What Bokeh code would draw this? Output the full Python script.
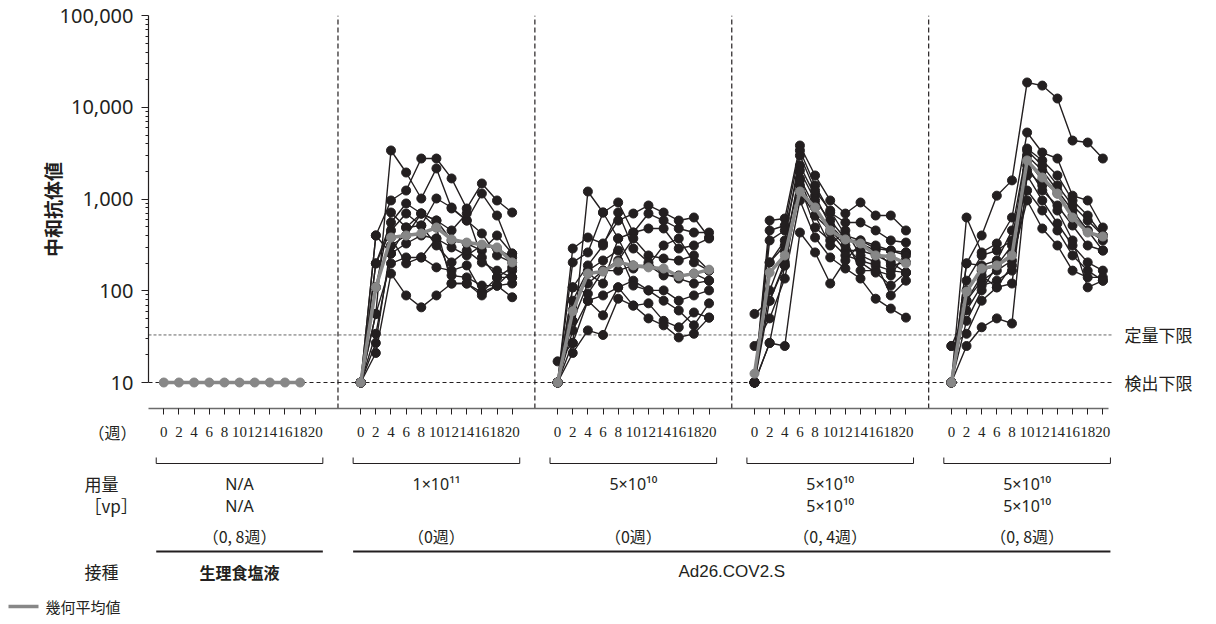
from bokeh.plotting import figure
from bokeh.models import Range1d, FixedTicker, NumeralTickFormatter
from bokeh.embed import file_html
from bokeh.resources import INLINE
from bokeh.core.properties import value

# ---------------- data ----------------
WEEKS = [0, 2, 4, 6, 8, 10, 12, 14, 16, 18, 20]
SALINE_WEEKS = [0, 2, 4, 6, 8, 10, 12, 14, 16, 18]

saline_gmt = [10, 10, 10, 10, 10, 10, 10, 10, 10, 10]

g1e11_animals = [
    [10, 56, 3390, 1950, 1015, 2160, 790, 584, 1150, 662, 255],
    [10, 401, 966, 1240, 2770, 2770, 1680, 790, 1480, 966, 714],
    [10, 21, 154, 89, 66, 89, 120, 120, 96, 114, 85],
    [10, 109, 714, 490, 696, 584, 354, 328, 275, 401, 255],
    [10, 199, 455, 696, 515, 1015, 810, 584, 422, 243, 204],
    [10, 34, 255, 328, 401, 372, 297, 243, 312, 289, 231],
    [10, 56, 199, 231, 231, 180, 166, 189, 96, 140, 140],
    [10, 109, 381, 199, 231, 372, 147, 140, 114, 114, 166],
    [10, 199, 556, 896, 696, 584, 455, 696, 231, 140, 180],
    [10, 27, 312, 401, 696, 490, 120, 120, 89, 114, 120],
    [10, 401, 255, 490, 515, 312, 204, 275, 204, 166, 140],
]
g1e11_gmt = [10, 109, 381, 401, 422, 490, 363, 336, 320, 297, 204]

g5e10_animals = [
    [10, 27, 1210, 714, 919, 432, 696, 584, 478, 432, 432],
    [10, 289, 381, 328, 584, 696, 852, 714, 584, 630, 381],
    [10, 204, 262, 714, 372, 432, 478, 478, 289, 312, 372],
    [10, 109, 93, 166, 214, 372, 243, 225, 214, 243, 166],
    [10, 61, 154, 120, 372, 175, 189, 147, 147, 154, 129],
    [10, 21, 37, 33, 82, 69, 73, 47, 40, 58, 51],
    [17, 27, 78, 54, 109, 129, 101, 78, 61, 42, 73],
    [10, 37, 78, 89, 109, 69, 50, 42, 31, 34, 51],
    [10, 109, 189, 312, 714, 289, 204, 154, 136, 120, 129],
    [10, 78, 166, 214, 275, 114, 101, 101, 78, 89, 101],
    [10, 47, 120, 166, 166, 189, 189, 312, 372, 204, 166],
]
g5e10_gmt = [10, 60, 154, 162, 204, 189, 180, 175, 144, 154, 170]

g5e10x2_w4_animals = [
    [10, 584, 614, 3840, 1810, 966, 696, 919, 662, 662, 455],
    [10, 455, 515, 3390, 1410, 714, 556, 556, 455, 354, 336],
    [10, 354, 455, 2320, 1090, 515, 354, 354, 289, 275, 262],
    [10, 204, 312, 1680, 810, 432, 275, 275, 243, 204, 158],
    [56, 78, 204, 1410, 490, 354, 243, 214, 189, 166, 158],
    [25, 50, 136, 966, 381, 231, 175, 136, 82, 64, 51],
    [10, 27, 25, 432, 262, 120, 214, 328, 275, 189, 204],
    [10, 27, 189, 1240, 662, 312, 455, 243, 204, 89, 129],
    [10, 101, 275, 2050, 966, 584, 372, 166, 166, 147, 262],
    [10, 204, 354, 2990, 1240, 751, 401, 354, 312, 275, 243],
    [10, 78, 189, 1600, 662, 455, 312, 204, 158, 114, 158],
]
g5e10x2_w4_gmt = [12.5, 158, 243, 1210, 810, 455, 363, 328, 243, 237, 199]

g5e10x2_w8_animals = [
    [10, 199, 401, 1090, 1600, 18700, 17300, 12500, 4350, 4140, 2770],
    [10, 630, 262, 328, 630, 5320, 3220, 2770, 1090, 966, 490],
    [10, 199, 189, 214, 455, 3560, 2640, 1810, 966, 662, 401],
    [10, 101, 166, 189, 255, 2990, 2050, 1240, 751, 455, 275],
    [25, 34, 78, 109, 120, 2320, 1240, 852, 515, 312, 275],
    [10, 25, 40, 50, 44, 1810, 966, 542, 312, 204, 166],
    [10, 78, 129, 166, 214, 966, 478, 312, 166, 140, 140],
    [10, 47, 101, 189, 312, 2640, 1600, 1150, 662, 455, 354],
    [25, 61, 114, 129, 166, 2050, 1410, 751, 354, 109, 129],
    [10, 129, 243, 275, 354, 3390, 2320, 1410, 852, 584, 401],
    [10, 78, 147, 109, 189, 1240, 751, 455, 243, 166, 129],
]
g5e10x2_w8_gmt = [10, 98, 175, 189, 243, 2640, 1720, 1150, 630, 432, 391]

DOSE_LINE_1 = ["N/A", "1×10¹¹", "5×10¹⁰", "5×10¹⁰", "5×10¹⁰"]
DOSE_LINE_2 = ["N/A", "", "", "5×10¹⁰", "5×10¹⁰"]
SCHEDULE = ["（0, 8週）", "（0週）", "（0週）", "（0, 4週）", "（0, 8週）"]
VACCINES = ["生理食塩液", "Ad26.COV2.S"]

WEEK_TICKS = [0, 2, 4, 6, 8, 10, 12, 14, 16, 18, 20]
Y_TICKS = [10, 100, 1000, 10000, 100000]
LLOQ = 33
LOD = 10

# ---------------- layout & style ----------------
W, H = 1216, 624
TOP_H = 416
FRAME_L = 148
FRAME_T = 10
AXIS_Y = 408
PXW = 7.573          # pixels per week
WEEK0_PX = 163.3
DECADE_PX = 91.7
Y10_PX = 382
PANEL_STEP = 26      # weeks between panel origins

BLACK = "#231f20"
GRAY = "#878787"
CJK = "Noto Sans CJK JP"

x_lo = -(WEEK0_PX - FRAME_L) / PXW
x_hi = x_lo + (W - FRAME_L) / PXW
y_lo = 10 ** (1 - (AXIS_Y - Y10_PX) / DECADE_PX)
y_hi = 10 ** (1 + (Y10_PX - FRAME_T) / DECADE_PX)


def top_x(px):
    return x_lo + (px - FRAME_L) / PXW


p = figure(width=W, height=TOP_H, y_axis_type="log",
           x_range=Range1d(x_lo, x_hi), y_range=Range1d(y_lo, y_hi),
           output_backend="svg", toolbar_location=None,
           min_border_left=FRAME_L, min_border_right=0,
           min_border_top=FRAME_T, min_border_bottom=TOP_H - AXIS_Y)
p.outline_line_color = None
p.grid.visible = False

# y axis
minor = [m * 10 ** k for k in range(1, 5) for m in range(2, 10)]
yax = p.yaxis[0]
yax.ticker = FixedTicker(ticks=Y_TICKS, minor_ticks=minor)
yax.formatter = NumeralTickFormatter(format="0,0")
yax.bounds = (10, 100000)
yax.axis_line_color = BLACK
yax.axis_line_width = 1.2
yax.major_tick_line_color = BLACK
yax.minor_tick_line_color = BLACK
yax.major_tick_out = 7
yax.major_tick_in = 0
yax.minor_tick_out = 3
yax.minor_tick_in = 0
yax.major_label_standoff = 8
yax.major_label_text_font = "Noto Sans"
yax.major_label_text_font_size = "20px"
yax.major_label_text_color = BLACK
yax.axis_label = "中和抗体値"
yax.axis_label_text_font = CJK
yax.axis_label_text_font_style = "bold"
yax.axis_label_text_font_size = "19px"
yax.axis_label_text_color = BLACK
yax.axis_label_standoff = -9

# x axis: line plus week ticks (drawn as unlabeled minor ticks; the
# week numbers are set in the strip below)
x_ticks = [k * PANEL_STEP + w for k in range(5) for w in WEEK_TICKS]
xax = p.xaxis[0]
xax.ticker = FixedTicker(ticks=[], minor_ticks=x_ticks)
xax.bounds = (x_lo, top_x(1108))
xax.axis_line_color = "#6b6b6b"
xax.axis_line_width = 1.6
xax.minor_tick_line_color = BLACK
xax.minor_tick_out = 6
xax.minor_tick_in = 0
xax.major_tick_line_color = None

# reference lines
line_end = top_x(1113)
p.segment(x0=[x_lo], y0=[LLOQ], x1=[line_end], y1=[LLOQ],
          line_color="#555555", line_width=0.9, line_dash="3 2")
p.segment(x0=[x_lo], y0=[LOD], x1=[line_end], y1=[LOD],
          line_color=BLACK, line_width=1, line_dash="4 3")
seps = [PANEL_STEP * k + 23 for k in range(4)]
p.segment(x0=seps, y0=[y_lo] * 4, x1=seps, y1=[100000] * 4,
          line_color=BLACK, line_width=1.2, line_dash="5 3")

# individual animals, then geometric means on top
groups = [
    (SALINE_WEEKS, [], saline_gmt),
    (WEEKS, g1e11_animals, g1e11_gmt),
    (WEEKS, g5e10_animals, g5e10_gmt),
    (WEEKS, g5e10x2_w4_animals, g5e10x2_w4_gmt),
    (WEEKS, g5e10x2_w8_animals, g5e10x2_w8_gmt),
]
for k, (wk, animals, gmt) in enumerate(groups):
    xs = [k * PANEL_STEP + w for w in wk]
    for series in animals:
        p.line(xs, series, line_color=BLACK, line_width=1.4)
        p.scatter(xs, series, size=9, marker="circle",
                  fill_color=BLACK, line_color=BLACK)
for k, (wk, animals, gmt) in enumerate(groups):
    xs = [k * PANEL_STEP + w for w in wk]
    p.line(xs, gmt, line_color=GRAY, line_width=3.5)
    p.scatter(xs, gmt, size=9, marker="circle", fill_color=GRAY, line_color=GRAY)

p.text(x=[top_x(1124)] * 2, y=[LLOQ, LOD], text=["定量下限", "検出下限"],
       text_font=value(CJK), text_font_size="17px", text_color=BLACK,
       text_baseline="middle", text_align="left")

# ---------------- lower annotation strip ----------------
BOT_H = H - TOP_H
bx_lo = x_lo - FRAME_L / PXW


def bot_x(px):
    return bx_lo + px / PXW


q = figure(width=W, height=BOT_H, x_range=Range1d(bx_lo, x_hi),
           y_range=Range1d(BOT_H, 0), output_backend="svg",
           toolbar_location=None, x_axis_location=None, y_axis_location=None,
           min_border=0)
q.outline_line_color = None
q.grid.visible = False

ROW_WEEKS = 15
ROW_BRACKET_TOP, ROW_BRACKET = 41, 47
ROW_DOSE1, ROW_DOSE2 = 67, 89
ROW_SCHED = 119
ROW_RULE = 135
ROW_VAX = 155
ROW_LEGEND = 190

q.text(x=x_ticks, y=[ROW_WEEKS] * len(x_ticks),
       text=[str(w) for k in range(5) for w in WEEK_TICKS],
       text_font=value("Liberation Sans Narrow"), text_font_size="15px",
       text_color=BLACK, text_align="center", text_baseline="middle")

centers = [k * PANEL_STEP + 10 for k in range(5)]
lefts = [k * PANEL_STEP - 1 for k in range(5)]
rights = [k * PANEL_STEP + 21 for k in range(5)]

q.segment(x0=lefts, y0=[ROW_BRACKET] * 5, x1=rights, y1=[ROW_BRACKET] * 5,
          line_color=BLACK, line_width=1)
q.segment(x0=lefts + rights, y0=[ROW_BRACKET_TOP] * 10,
          x1=lefts + rights, y1=[ROW_BRACKET] * 10, line_color=BLACK, line_width=1)

q.text(x=centers, y=[ROW_DOSE1] * 5, text=DOSE_LINE_1, text_font=value("Noto Sans"),
       text_font_size="16px", text_color=BLACK, text_align="center", text_baseline="middle")
q.text(x=centers, y=[ROW_DOSE2] * 5, text=DOSE_LINE_2, text_font=value("Noto Sans"),
       text_font_size="16px", text_color=BLACK, text_align="center", text_baseline="middle")
q.text(x=centers, y=[ROW_SCHED] * 5, text=SCHEDULE, text_font=value(CJK),
       text_font_size="16px", text_color=BLACK, text_align="center", text_baseline="middle")

q.segment(x0=[lefts[0], lefts[1]], y0=[ROW_RULE] * 2, x1=[rights[0], rights[4]],
          y1=[ROW_RULE] * 2, line_color=BLACK, line_width=2)
q.text(x=[centers[0]], y=[ROW_VAX], text=[VACCINES[0]], text_font=value(CJK),
       text_font_style="bold", text_font_size="16px", text_color=BLACK,
       text_align="center", text_baseline="middle")
q.text(x=[(lefts[1] + rights[4]) / 2], y=[ROW_VAX], text=[VACCINES[1]],
       text_font=value("Liberation Sans"), text_font_size="17px", text_color=BLACK,
       text_align="center", text_baseline="middle")

q.text(x=[bot_x(88)], y=[ROW_WEEKS], text=["（週）"],
       text_font=value(CJK), text_font_size="16px", text_color=BLACK,
       text_align="left", text_baseline="middle")
q.text(x=[bot_x(84)] * 3, y=[ROW_DOSE1, ROW_DOSE2, ROW_VAX], text=["用量", "［vp］", "接種"],
       text_font=value(CJK), text_font_size="17px", text_color=BLACK,
       text_align="left", text_baseline="middle")

q.segment(x0=[bot_x(8)], y0=[ROW_LEGEND], x1=[bot_x(38)], y1=[ROW_LEGEND],
          line_color=GRAY, line_width=3.5)
q.text(x=[bot_x(45)], y=[ROW_LEGEND], text=["幾何平均値"], text_font=value(CJK),
       text_font_size="15px", text_color=BLACK, text_align="left", text_baseline="middle")

open("out.html", "w").write(file_html([p, q], INLINE))
